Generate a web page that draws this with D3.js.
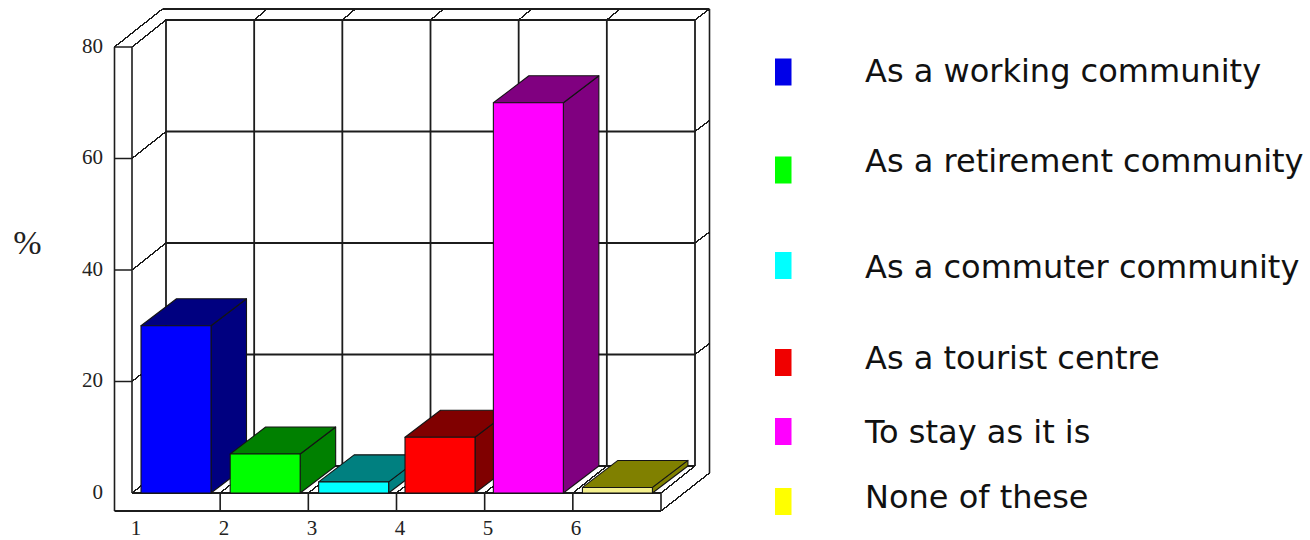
<!DOCTYPE html>
<html>
<head>
<meta charset="utf-8">
<script src="https://cdn.jsdelivr.net/npm/d3@7/dist/d3.min.js"></script>
<style>
html, body { margin: 0; padding: 0; background: #fff; }
svg { display: block; }
</style>
</head>
<body>
<svg id="chart" width="1310" height="540"></svg>
<script>
// Survey answers, in percent
const categories = ["1", "2", "3", "4", "5", "6"];
const values = [30, 7, 2, 10, 70, 1];
const legendLabels = [
  "As a working community",
  "As a retirement community",
  "As a commuter community",
  "As a tourist centre",
  "To stay as it is",
  "None of these"
];
const valueTicks = [0, 20, 40, 60, 80];
const frontColors = ["#0000ff", "#00ff00", "#00ffff", "#ff0000", "#ff00ff", "#f4f08e"];
const sideColors = ["#000080", "#008000", "#008080", "#800000", "#800080", "#808000"];
const legendColors = ["#0000e8", "#00ff00", "#00ffff", "#f00000", "#ff00ff", "#ffff00"];
const legendSwatchY = [72, 170, 265.5, 362.5, 431.5, 501.5];
const legendBaseline = [82, 172, 278, 369, 443, 508];

const svg = d3.select("#chart");

// Front plane of the box; the back wall is the same plane pushed by (depthX, depthY)
const y = d3.scaleLinear().domain([0, 80]).range([493, 47]);
const x = d3.scaleBand().domain(categories).range([132, 661]);
const depthX = 34, depthY = -27;
const barDepthX = 35.5;
const frameColor = "#1c1c1c";

const frame = svg.append("g").attr("fill", "none").attr("stroke", frameColor);
const seg = (g, x1, y1, x2, y2, sw) => g.append("line")
  .attr("x1", x1).attr("y1", y1).attr("x2", x2).attr("y2", y2)
  .attr("stroke-width", sw);
// Diagonals are left un-antialiased so they step like a low-resolution raster line
const diag = (g, x1, y1, x2, y2) => seg(g, x1, y1, x2, y2, 1.4)
  .attr("shape-rendering", "crispEdges");

const frontLeft = x.range()[0], frontRight = x.range()[1];
const backLeft = frontLeft + depthX, backRight = frontRight + depthX;
const outerLeft = 114.5, outerRight = 709.5, outerTop = 9, plinthBottom = 511;
const topBack = y(80) + depthY, floorBack = y(0) + depthY;

// Back wall: horizontal grid lines and the wall-to-wall diagonals
valueTicks.forEach(v => {
  const yb = y(v) + depthY;
  seg(frame, backLeft, yb, backRight, yb, v === 80 ? 2.2 : 1.8);
  if (v > 0) {
    diag(frame, frontLeft, y(v), backLeft, yb);
    seg(frame, outerLeft, y(v), frontLeft, y(v), 1.5);
    diag(frame, backRight, yb, outerRight, yb - 11);
  }
});

// Back wall: vertical grid lines, with their short returns on the top rim
const gridX = x.domain().map(d => x(d) + depthX).concat(backRight);
gridX.forEach((gx, i) => {
  seg(frame, gx, topBack, gx, floorBack, 1.8);
  if (i > 0 && i < gridX.length - 1) diag(frame, gx, topBack, gx + 13, outerTop);
});

// Outer shell
seg(frame, outerLeft, y(80), outerLeft, plinthBottom, 1.6);
seg(frame, frontLeft, y(80), frontLeft, y(0), 1.6);
diag(frame, outerLeft, y(80), outerLeft + 48, outerTop);
seg(frame, outerLeft + 48, outerTop, outerRight, outerTop, 1.8);
seg(frame, outerRight, outerTop, outerRight, 473, 1.6);
diag(frame, frontRight, plinthBottom, outerRight, 473);

// Floor diagonals and plinth
x.domain().map(d => x(d)).concat(frontRight).forEach(fx => {
  diag(frame, fx, y(0), fx + depthX, floorBack);
});
seg(frame, frontLeft, y(0), frontRight, y(0), 1.8);
seg(frame, outerLeft, plinthBottom, frontRight, plinthBottom, 1.8);
x.domain().slice(1).map(d => x(d)).concat(frontRight).forEach(fx => {
  seg(frame, fx, y(0), fx, plinthBottom, 1.6);
});

// Extruded bars, drawn left to right so each one covers its neighbour's side
const barWidth = 70;
const barInset = [9, 10, 10.3, 8.5, 8.7, 9.6];
const bars = svg.append("g").selectAll("g").data(values).join("g")
  .attr("stroke", "#141414").attr("stroke-width", 1.1).attr("stroke-linejoin", "round");

const poly = pts => pts.map(p => p.join(",")).join(" ");
bars.each(function(v, i) {
  const g = d3.select(this);
  const x0 = x(categories[i]) + barInset[i];
  const x1 = x0 + barWidth;
  const yt = y(v), yb = y(0);
  g.append("polygon").attr("fill", sideColors[i])
    .attr("points", poly([[x1, yt], [x1 + barDepthX, yt + depthY], [x1 + barDepthX, yb + depthY], [x1, yb]]));
  g.append("polygon").attr("fill", sideColors[i])
    .attr("points", poly([[x0, yt], [x0 + barDepthX, yt + depthY], [x1 + barDepthX, yt + depthY], [x1, yt]]));
  g.append("rect").attr("x", x0).attr("y", yt).attr("width", barWidth).attr("height", yb - yt)
    .attr("fill", frontColors[i]);
});

// Axis labels
const tickFont = "'Liberation Serif', serif";
const yAxis = d3.axisLeft(y).tickValues(valueTicks).tickSize(0).tickPadding(0);
svg.append("g").attr("transform", "translate(103,-1.5)").call(yAxis)
  .call(g => g.select(".domain").remove())
  .call(g => g.selectAll("text").attr("font-family", tickFont).attr("font-size", 21).attr("fill", "#222"));

const xLabelPos = d3.scalePoint().domain(categories).range([136, 576]);
svg.append("g").selectAll("text").data(categories).join("text")
  .attr("x", d => xLabelPos(d)).attr("y", 534.5).attr("text-anchor", "middle")
  .attr("font-family", tickFont).attr("font-size", 21).attr("fill", "#222")
  .text(d => d);

svg.append("text").attr("x", 27.5).attr("y", 254).attr("text-anchor", "middle")
  .attr("font-family", tickFont).attr("font-size", 34).attr("fill", "#222").text("%");

// Legend
const legend = svg.append("g");
legend.selectAll("rect").data(legendLabels).join("rect")
  .attr("x", 775).attr("width", 16.5).attr("height", 27)
  .attr("y", (d, i) => legendSwatchY[i] - 13.5)
  .attr("fill", (d, i) => legendColors[i]);
legend.selectAll("text").data(legendLabels).join("text")
  .attr("x", 865).attr("y", (d, i) => legendBaseline[i])
  .attr("font-family", "'DejaVu Sans', sans-serif").attr("font-size", 32).attr("fill", "#111")
  .text(d => d);
</script>
</body>
</html>
